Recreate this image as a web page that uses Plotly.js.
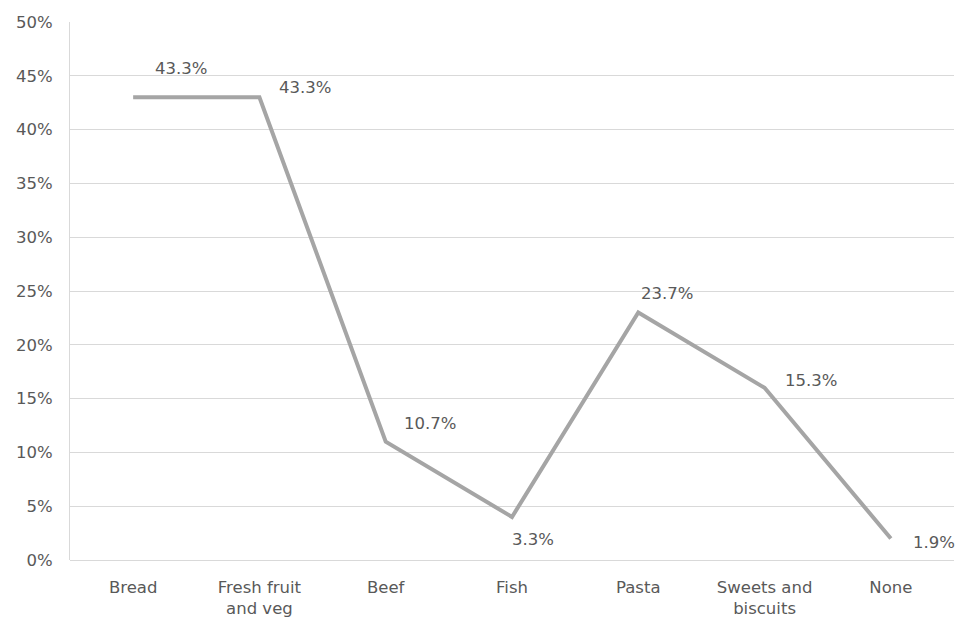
<!DOCTYPE html>
<html>
<head>
<meta charset="utf-8">
<script src="https://cdn.plot.ly/plotly-3.0.1.min.js"></script>
<style>html,body{margin:0;padding:0;background:#fff;}#chart{width:956px;height:619px;}</style>
</head>
<body>
<div id="chart"></div>
<script>
// Data
const categories = ["Bread", "Fresh fruit<br>and veg", "Beef", "Fish", "Pasta", "Sweets and<br>biscuits", "None"];
const values = [0.43, 0.43, 0.11, 0.04, 0.23, 0.16, 0.02];
const labels = ["43.3%", "43.3%", "10.7%", "3.3%", "23.7%", "15.3%", "1.9%"];
const yTickVals = [0, 0.05, 0.10, 0.15, 0.20, 0.25, 0.30, 0.35, 0.40, 0.45, 0.50];
const yTickText = ["0%", "5%", "10%", "15%", "20%", "25%", "30%", "35%", "40%", "45%", "50%"];

// label offsets (px) - styling only
const labelDx = [48, 46, 44, 21, 29, 46, 43];
const labelDy = [29, 10, 18, -23, 19, 7, -4];

const font = {family: "DejaVu Sans, Verdana, sans-serif", size: 16.5, color: "#595959"};

const trace = {
  x: categories.map((c, i) => i),
  y: values,
  type: "scatter",
  mode: "lines",
  line: {color: "#a5a5a5", width: 4},
  hoverinfo: "none"
};

const annotations = values.map((v, i) => ({
  x: i, y: v, xref: "x", yref: "y",
  text: labels[i], showarrow: false,
  xshift: labelDx[i], yshift: labelDy[i],
  font: font
}));

const layout = {
  width: 956, height: 619,
  margin: {l: 70, r: 2, t: 22, b: 59},
  paper_bgcolor: "#fff", plot_bgcolor: "#fff",
  showlegend: false,
  font: font,
  xaxis: {
    range: [-0.5, 6.5],
    tickmode: "array",
    tickvals: categories.map((c, i) => i),
    ticktext: categories,
    showgrid: false,
    zeroline: false,
    showline: false,
    ticks: "",
    ticklabelstandoff: 15,
    tickfont: font
  },
  yaxis: {
    range: [0, 0.5],
    tickmode: "array",
    tickvals: yTickVals,
    ticktext: yTickText,
    showgrid: true,
    gridcolor: "#d9d9d9",
    gridwidth: 1,
    zeroline: true,
    zerolinecolor: "#d9d9d9",
    zerolinewidth: 1,
    showline: true,
    linecolor: "#d9d9d9",
    linewidth: 1,
    ticks: "",
    ticklabelstandoff: 13,
    tickfont: font
  },
  annotations: annotations
};

Plotly.newPlot("chart", [trace], layout, {displayModeBar: false, staticPlot: true});
</script>
</body>
</html>
